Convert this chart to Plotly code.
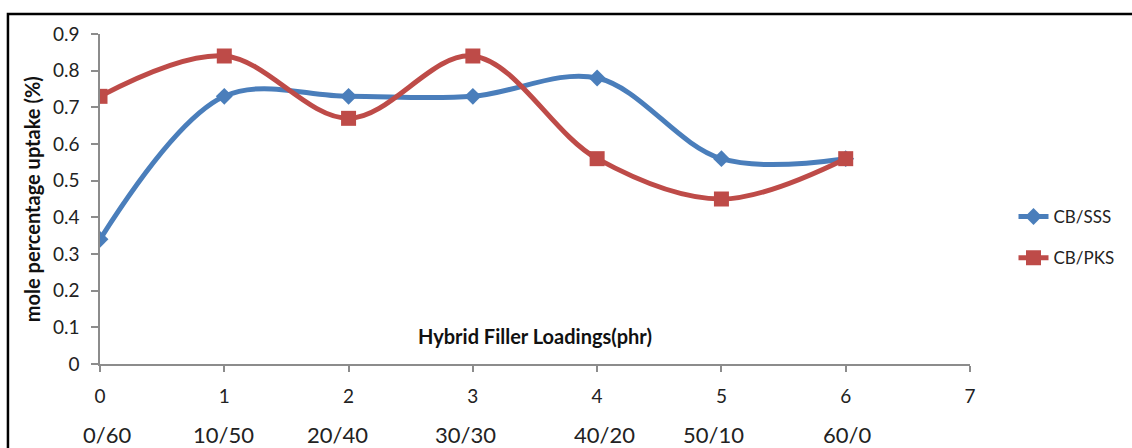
import plotly.graph_objects as go

# Filler loading index and the CB/filler ratio it corresponds to
loading = [0, 1, 2, 3, 4, 5, 6]
ratio_labels = ["0/60", "10/50", "20/40", "30/30", "40/20", "50/10", "60/0"]

# Mole percentage uptake (%)
cb_sss = [0.34, 0.73, 0.73, 0.73, 0.78, 0.56, 0.56]
cb_pks = [0.73, 0.84, 0.67, 0.84, 0.56, 0.45, 0.56]

x_ticks = [0, 1, 2, 3, 4, 5, 6, 7]
y_ticks = [0, 0.1, 0.2, 0.3, 0.4, 0.5, 0.6, 0.7, 0.8, 0.9]

FONT = "Lato"
BLUE = "#4A7EBB"
RED = "#BE4B48"
AXIS = "#8C8C8C"

fig = go.Figure()
fig.add_trace(go.Scatter(
    x=loading, y=cb_sss, name="CB/SSS", mode="lines+markers",
    line=dict(color=BLUE, width=5, shape="spline", smoothing=1.0),
    marker=dict(symbol="diamond", size=13, color=BLUE),
    legendgroup="a",
))
fig.add_trace(go.Scatter(
    x=loading, y=cb_pks, name="CB/PKS", mode="lines+markers",
    line=dict(color=RED, width=5, shape="spline", smoothing=1.0),
    marker=dict(symbol="square", size=15, color=RED),
    legendgroup="b",
))

# Ratio labels printed beneath the numeric ticks
ratio_x = [0.06, 0.99, 1.91, 2.94, 4.06, 4.94, 6.01]
for xv, lab in zip(ratio_x, ratio_labels):
    fig.add_annotation(x=xv, y=-0.215, xref="x", yref="paper", text=lab,
                       showarrow=False, font=dict(family=FONT, size=22, color="#222"),
                       xanchor="center", yanchor="middle")

fig.add_annotation(x=3.5, y=0.076, xref="x", yref="y",
                   text="<b>Hybrid Filler Loadings(phr)</b>", showarrow=False,
                   font=dict(family=FONT, size=20, color="#111"))
fig.add_annotation(x=-0.078, y=0.5, xref="paper", yref="paper",
                   xanchor="center", yanchor="middle",
                   text="<b>mole percentage uptake (%)</b>", textangle=-90,
                   showarrow=False, font=dict(family=FONT, size=20, color="#111"))

# Outer frame of the chart
fig.add_shape(type="rect", xref="paper", yref="paper",
              x0=-0.1058, x1=1.3, y0=-0.5, y1=1.0606,
              line=dict(color="black", width=2.5), layer="below")

fig.update_layout(
    width=1132, height=448,
    margin=dict(l=100, r=162, t=34, b=84),
    paper_bgcolor="white", plot_bgcolor="white",
    font=dict(family=FONT, size=19, color="#222"),
    showlegend=True,
    legend=dict(x=1.05, y=0.5, xanchor="left", yanchor="top",
                font=dict(family=FONT, size=17, color="#222"),
                tracegroupgap=16, bgcolor="rgba(0,0,0,0)"),
    xaxis=dict(range=[0, 7], tickvals=x_ticks, showgrid=False, zeroline=False,
               showline=True, linecolor=AXIS, linewidth=1.5,
               ticks="outside", ticklen=6, tickcolor=AXIS, tickwidth=1.5,
               ticklabelstandoff=8, tickfont=dict(size=19)),
    yaxis=dict(range=[0, 0.9], tickvals=y_ticks, ticktext=[f"{v:g}" for v in y_ticks],
               showgrid=False, zeroline=False,
               showline=True, linecolor=AXIS, linewidth=1.5,
               ticks="outside", ticklen=7, tickcolor=AXIS, tickwidth=1.5,
               ticklabelstandoff=8, tickfont=dict(size=19)),
)

fig.write_html("out.html")
